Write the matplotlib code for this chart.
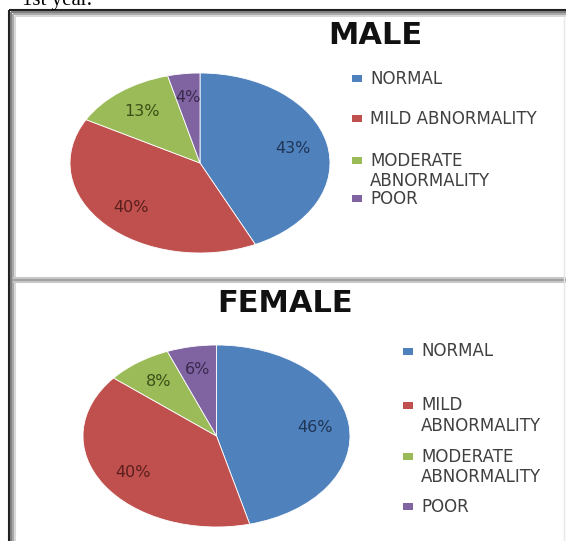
import matplotlib.pyplot as plt
from matplotlib.patches import Rectangle

W, H = 566, 541

categories = ['NORMAL', 'MILD ABNORMALITY', 'MODERATE\nABNORMALITY', 'POOR']
female_categories = ['NORMAL', 'MILD\nABNORMALITY', 'MODERATE\nABNORMALITY', 'POOR']
male_values = [43, 40, 13, 4]
female_values = [46, 40, 8, 6]

colors = ['#4F81BD', '#C0504D', '#9BBB59', '#8064A2']
label_colors = ['#1F3556', '#5A1E1C', '#3B4F17', '#3A2A4E']

plt.rcParams['font.family'] = ['DejaVu Sans']
fig = plt.figure(figsize=(W / 100, H / 100), dpi=100)


def px(x0, y0, x1, y1):
    # pixel box (top-left origin) -> figure fraction
    return [x0 / W, 1 - y1 / H, (x1 - x0) / W, (y1 - y0) / H]


# page frame
bg = fig.add_axes([0, 0, 1, 1])
bg.set_xlim(0, W)
bg.set_ylim(H, 0)
bg.axis('off')
bg.text(22, 5, '1st year.', fontsize=15, family='Liberation Serif', va='baseline')
for off, c in [(0, '#202020'), (2, '#808080'), (4, '#A8A8A8'), (6, '#D8D8D8')]:
    bg.add_patch(Rectangle((9 + off, 10 + off), 600, 600, fill=False, ec=c, lw=1.5))
for off, c in [(0, '#C8C8C8'), (2, '#A0A0A0'), (4, '#C8C8C8')]:
    bg.plot([14, W], [278 + off, 278 + off], color=c, lw=1.5)
bg.plot([564, 564], [18, H], color='#E8E8E8', lw=1)


def draw_pie(box, values, pctd, title, tx, ty, cats, lx, ly):
    ax = fig.add_axes(px(*box))
    wedges, _, autotexts = ax.pie(values, colors=colors, startangle=90, counterclock=False,
                                  autopct='%d%%', pctdistance=pctd,
                                  wedgeprops=dict(edgecolor='white', linewidth=0.6),
                                  textprops=dict(fontsize=11.5))
    for t, c in zip(autotexts, label_colors):
        t.set_color(c)
    ax.set_aspect('auto')
    ax.set_xlim(-1, 1)
    ax.set_ylim(-1, 1)
    bg.text(tx, ty, title, fontsize=22, fontweight='bold', ha='center', va='center',
            color='#111111')
    for i, (name, y) in enumerate(zip(cats, ly)):
        bg.add_patch(Rectangle((lx, y - 3.5), 10, 7, color=colors[i], lw=0))
        bg.text(lx + 18, y - 8.5, name, fontsize=12, va='top',
                color='#404040', linespacing=1.15)


# male
draw_pie((70, 73, 330, 253), male_values, 0.73, 'MALE', 375, 36, categories, 352,
         [78, 118, 160, 198])
# female
draw_pie((83, 345, 350, 527), female_values, 0.74, 'FEMALE', 285, 303, female_categories, 403,
         [351, 405, 456, 506])

fig.savefig('out.png', dpi=100)
